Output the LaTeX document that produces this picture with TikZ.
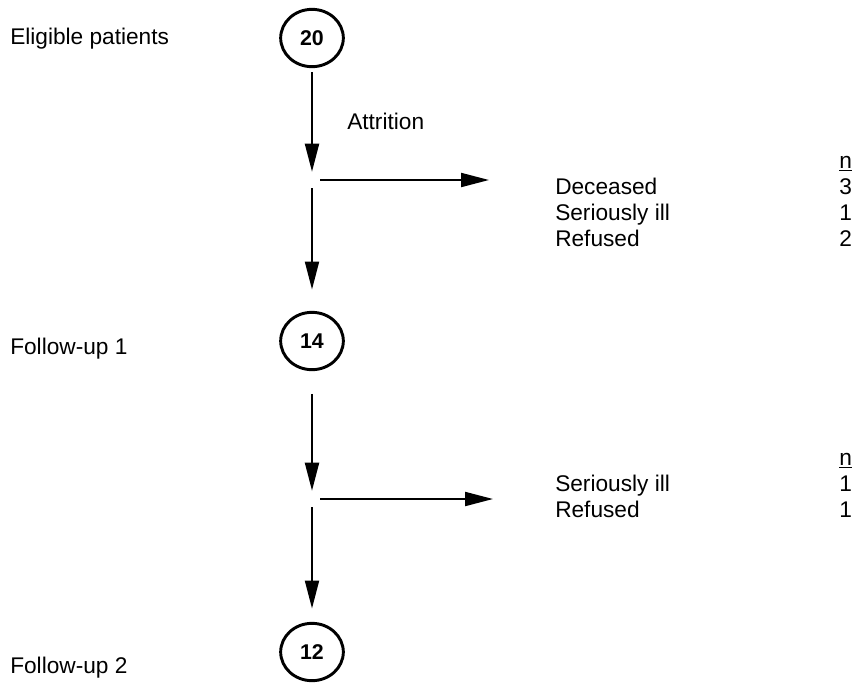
\documentclass[tikz,border=0pt]{standalone}
\usepackage{fontspec}
\setmainfont{Liberation Sans}
\usetikzlibrary{shapes.geometric,arrows.meta}
\tikzset{
  count/.style   ={ellipse,draw,line width=2.2pt,minimum width=47pt,
                   minimum height=43pt,inner sep=0pt,
                   font=\fontsize{16}{19}\selectfont\bfseries},
  stage/.style   ={anchor=base west,inner sep=0pt,
                   font=\fontsize{17}{19.5}\selectfont},
  reasons/.style ={anchor=base west,inner sep=0pt,align=left,
                   font=\fontsize{17}{19.5}\selectfont},
  junction/.style={inner sep=0pt,minimum width=12pt,minimum height=12pt},
  arr/.style     ={-{Triangle[length=21pt,width=10.5pt]},line width=1.5pt}
}

\begin{document}
\begin{tikzpicture}[x=0.75pt,y=-0.75pt]
  \useasboundingbox (0,0) rectangle (857,683);
  % Nodes
  \node (eligible) [stage] at (10,44)  {Eligible patients};
  \node (fu1)      [stage] at (10,354) {Follow-up 1};
  \node (fu2)      [stage] at (10,673) {Follow-up 2};

  \node (c20) [count] at (312,38)  {20};
  \node (c14) [count] at (312,341) {14};
  \node (c12) [count] at (312,652) {12};

  \node (j1) [junction] at (312,180) {};
  \node (j2) [junction] at (312,499) {};
  \coordinate (a1) at (489,180);
  \coordinate (a2) at (493,499);

  \node (attrition) [stage] at (347,129) {Attrition};

  \node (drop1) [reasons] at (555,168) {\begin{tabular}[t]{@{}p{213pt}@{}r@{}}
      & \underline{n}\\
      Deceased & 3\\
      Seriously ill & 1\\
      Refused & 2
    \end{tabular}};
  \node (drop2) [reasons] at (555,465) {\begin{tabular}[t]{@{}p{213pt}@{}r@{}}
      & \underline{n}\\
      Seriously ill & 1\\
      Refused & 1
    \end{tabular}};

  % Arrows
  \draw [arr, shorten <=3pt]  (c20) -- (j1);
  \draw [arr]                 (j1) -- (a1);
  \draw [arr, shorten >=16pt] (j1) -- (c14);
  \draw [arr, shorten <=17pt] (c14) -- (j2);
  \draw [arr]                 (j2) -- (a2);
  \draw [arr, shorten >=10pt] (j2) -- (c12);
\end{tikzpicture}
\end{document}
